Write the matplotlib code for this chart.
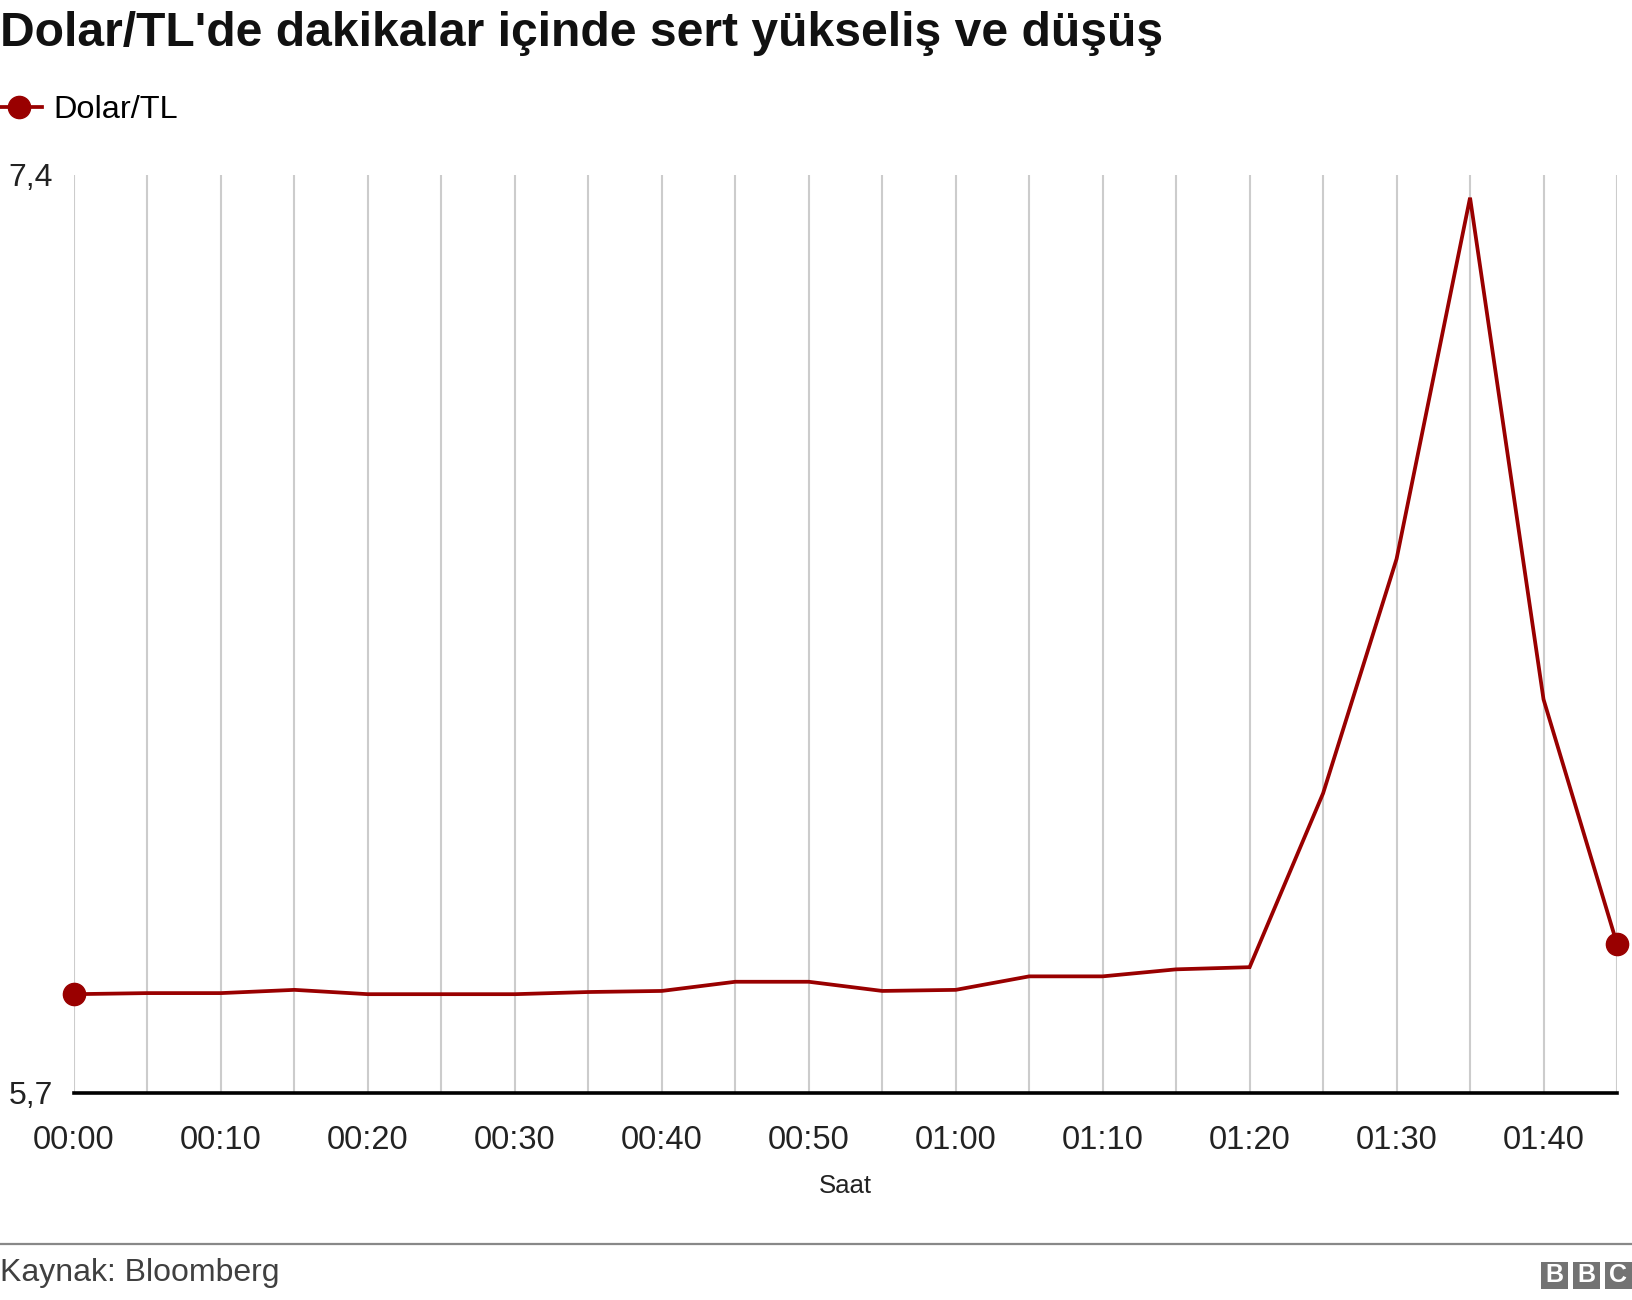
import matplotlib
matplotlib.use('Agg')
import matplotlib.pyplot as plt
from matplotlib.patches import Rectangle

plt.rcParams['font.family'] = ['Liberation Sans', 'DejaVu Sans']

# --- data ---
minutes = [0, 5, 10, 15, 20, 25, 30, 35, 40, 45, 50, 55,
           60, 65, 70, 75, 80, 85, 90, 95, 100, 105]
dolar_tl = [5.883, 5.885, 5.885, 5.891, 5.883, 5.883, 5.883, 5.887, 5.889, 5.906, 5.906, 5.889,
            5.891, 5.916, 5.916, 5.929, 5.933, 6.255, 6.689, 7.358, 6.429, 5.976]
tick_minutes = [0, 10, 20, 30, 40, 50, 60, 70, 80, 90, 100]
tick_labels = ['00:00', '00:10', '00:20', '00:30', '00:40', '00:50',
               '01:00', '01:10', '01:20', '01:30', '01:40']
y_ticks = [5.7, 7.4]
y_labels = ['5,7', '7,4']

W, H = 1632, 1300
LINE_RED = '#990000'

fig = plt.figure(figsize=(W / 100, H / 100), dpi=100)
fig.patch.set_facecolor('white')

# axes box in pixel units
left, right, top, bottom = 74, 1617, 175, 1093
ax = fig.add_axes([left / W, 1 - bottom / H, (right - left) / W, (bottom - top) / H])

line, = ax.plot(minutes, dolar_tl, color=LINE_RED, linewidth=2.7,
                marker='o', markevery=[0, len(minutes) - 1], markersize=16,
                solid_joinstyle='miter', label='Dolar/TL', clip_on=False, zorder=3)

ax.set_xlim(0, 105)
ax.set_ylim(5.7, 7.4)
ax.set_xticks(tick_minutes)
ax.set_xticklabels(tick_labels)
ax.set_xticks(minutes, minor=True)
ax.set_yticks(y_ticks)
ax.set_yticklabels(y_labels)

ax.grid(True, axis='x', which='both', color='#cccccc', linewidth=1.5)
ax.set_axisbelow(True)
for s in ['top', 'right', 'left']:
    ax.spines[s].set_visible(False)
ax.spines['bottom'].set_linewidth(2.6)
ax.spines['bottom'].set_color('black')
ax.spines['bottom'].set_zorder(4)

ax.tick_params(axis='x', which='both', length=0, pad=23, labelsize=23.5, colors='#222222')
ax.tick_params(axis='y', length=0, pad=15, labelsize=23, colors='#222222')

ax.set_xlabel('Saat', fontsize=18.5, color='#222222', labelpad=13)

# title
fig.text(0.0, 1 - 11 / H, "Dolar/TL'de dakikalar içinde sert yükseliş ve düşüş",
         fontsize=34.6, fontweight='bold', ha='left', va='top', color='#111111')

# legend
fig.legend(handles=[line], loc='center left', bbox_to_anchor=(-0.003, 1 - 110 / H),
           frameon=False, fontsize=23.4, handlelength=1.45, handletextpad=0.35,
           borderaxespad=0, borderpad=0, markerscale=1.0)

# footer
fig.add_artist(plt.Line2D([0, 1], [1 - 1244 / H, 1 - 1244 / H], color='#888888', linewidth=1.6))
fig.text(0.0, 1 - 1273 / H, 'Kaynak: Bloomberg', fontsize=23, color='#404040',
         ha='left', va='center')

# BBC blocks
bx, by, bw, gap = 1541, 1262, 27, 5
for i, letter in enumerate('BBC'):
    x0 = bx + i * (bw + gap)
    fig.add_artist(Rectangle((x0 / W, 1 - (by + bw) / H), bw / W, bw / H,
                             transform=fig.transFigure, facecolor='#737373', edgecolor='none'))
    fig.text((x0 + bw / 2) / W, 1 - (by + bw / 2) / H, letter, color='white',
             fontsize=18, fontweight='bold', ha='center', va='center')

fig.savefig('out.png', dpi=100, facecolor='white')
